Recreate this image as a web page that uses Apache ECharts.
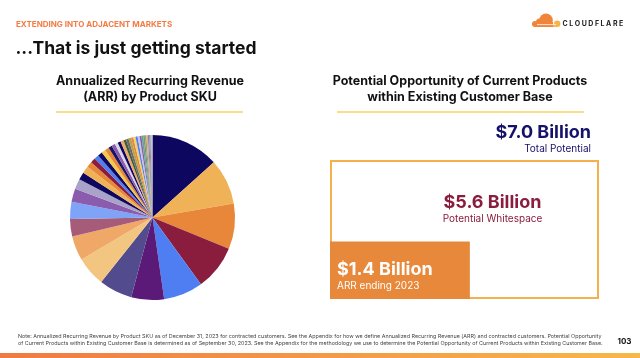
<!DOCTYPE html>
<html><head><meta charset="utf-8">
<script src="https://cdn.jsdelivr.net/npm/echarts@6/dist/echarts.min.js"></script>
<style>html,body{margin:0;padding:0;background:#fff}#c{width:640px;height:358px}</style>
</head><body><div id="c"></div>
<script>
// ARR share by product SKU (% of total ARR), clockwise from 12 o'clock
const skuShares = [13.3, 8.9, 8.9, 8.8, 7.7, 6.4, 6.5, 5.8, 4.8, 3.4, 3.3, 2.6, 2.0, 1.5, 1.4,
  1.1, 1.0, 0.9, 0.9, 0.8, 0.8, 0.7, 0.7, 0.6, 0.6, 0.6, 0.5, 0.5, 0.5, 0.45, 0.45, 0.4, 0.4, 0.35, 0.35, 0.3, 0.3, 0.3, 0.25, 0.25, 0.2, 0.2];
const skuColors = ['#0e0760','#f0b257','#e8873a','#8a1d3d','#4f7ef2','#5b1a78','#524c8f','#f2c681','#efa868','#a65b79','#7fa3f6','#8b5cae','#a9a3c9','#0e0760','#f0b257',
  '#e8873a','#8a1d3d','#4f7ef2','#0e0760','#f2c94c','#e8873a','#1a1464','#8b5cae','#d9d6e6','#0e0760','#efa868','#3d5a3a','#6a6a6a','#b8a24a','#e8873a','#f2d36b','#4f7ef2','#c9c4dd','#8b5cae','#5aa5a0','#7a9a5a','#9a9a9a','#e0b060','#6f86c8','#b07ab0','#88b0a8','#c0c0c0'];
// Potential opportunity ($ billions)
const oppLabels = ['Total Potential', 'Potential Whitespace', 'ARR ending 2023'];
const oppValues = [7.0, 5.6, 1.4];

const chart = echarts.init(document.getElementById('c'), null, {renderer: 'canvas'});
const F = 'Inter, "Noto Sans", sans-serif';
const footnote1 = 'Note: Annualized Recurring Revenue by Product SKU as of December 31, 2023 for contracted customers. See the Appendix for how we define Annualized Recurring Revenue (ARR) and contracted customers. Potential Opportunity';
const footnote2 = 'of Current Products within Existing Customer Base is determined as of September 30, 2023. See the Appendix for the methodology we use to determine the Potential Opportunity of Current Products within Existing Customer Base.';

function txt(x, y, text, font, fill, align) {
  return {type: 'text', x: x, y: y, z: 100, silent: true,
    style: {text: text, font: font, fill: fill, align: align || 'left', verticalAlign: 'middle'}};
}

// logo wordmark letters with spacing
const logoFont = 'bold 7px ' + F;
const mctx = document.createElement('canvas').getContext('2d');
mctx.font = logoFont;
const logoEls = [];
let lx = 562.5;
'CLOUDFLARE'.split('').forEach(ch => {
  logoEls.push(txt(lx, 24.3, ch, logoFont, '#222'));
  lx += mctx.measureText(ch).width + 1.55;
});

const arrWidthFrac = 0.52;
chart.setOption({
  animation: false,
  grid: {left: 331, top: 161, width: 267, height: 137},
  xAxis: {type: 'value', min: 0, max: 1, show: false},
  yAxis: {type: 'value', min: 0, max: 1, show: false},
  series: [
    {
      type: 'pie', center: [152.5, 217.5], radius: [0, 82.5], startAngle: 90, clockwise: true,
      label: {show: false}, labelLine: {show: false}, silent: true,
      itemStyle: {borderWidth: 0},
      data: skuShares.map((v, i) => ({value: v, name: 'SKU ' + (i + 1), itemStyle: {color: skuColors[i]}}))
    },
    {
      type: 'custom', silent: true, z: 1,
      data: [[oppValues[0]], [oppValues[2]]],
      renderItem: function (params, api) {
        const v = api.value(0);
        const share = v / oppValues[0];
        if (params.dataIndex === 0) {
          const p0 = api.coord([0, 1]), p1 = api.coord([1, 0]);
          return {type: 'rect', shape: {x: p0[0], y: p0[1], width: p1[0] - p0[0], height: p1[1] - p0[1]},
            style: {fill: 'rgba(0,0,0,0)', stroke: '#f3b04b', lineWidth: 2}};
        }
        const w = arrWidthFrac, h = share / w * 1.07;
        const p0 = api.coord([0, h]), p1 = api.coord([w, 0]);
        return {type: 'rect', shape: {x: p0[0] - 1, y: p0[1], width: p1[0] - p0[0] + 1, height: p1[1] - p0[1] + 1},
          style: {fill: '#e8883a'}};
      }
    }
  ],
  graphic: [
    txt(16, 24.2, 'EXTENDING INTO ADJACENT MARKETS', 'bold 8px ' + F, '#f47b42'),
    txt(15.5, 49, '...That is just getting started', 'bold 17.5px ' + F, '#111'),
    // logo
    {type: 'circle', shape: {cx: 546, cy: 20.2, r: 6.8}, style: {fill: '#f0853a'}},
    {type: 'circle', shape: {cx: 535, cy: 24, r: 3}, style: {fill: '#f0853a'}},
    {type: 'circle', shape: {cx: 539.5, cy: 22, r: 3.5}, style: {fill: '#f0853a'}},
    {type: 'rect', shape: {x: 535, y: 22, width: 18, height: 5}, style: {fill: '#f0853a'}},
    {type: 'circle', shape: {cx: 557.2, cy: 23.8, r: 3.2}, style: {fill: '#f8b44a'}},
    {type: 'rect', shape: {x: 553, y: 24, width: 4.5, height: 3}, style: {fill: '#f8b44a'}},
    {type: 'line', shape: {x1: 537, y1: 24.6, x2: 556, y2: 24.6}, style: {stroke: '#fff', lineWidth: 0.8}},
    {type: 'rect', shape: {x: 528, y: 27, width: 36, height: 3}, style: {fill: '#fff'}},
    ...logoEls,
    // subtitles
    txt(150, 81.7, 'Annualized Recurring Revenue', 'bold 12.5px ' + F, '#111', 'center'),
    txt(150, 97, '(ARR) by Product SKU', 'bold 12.5px ' + F, '#111', 'center'),
    {type: 'line', shape: {x1: 56, y1: 112, x2: 243, y2: 112}, style: {stroke: '#f8d262', lineWidth: 1.5}},
    txt(460, 81.7, 'Potential Opportunity of Current Products', 'bold 12.5px ' + F, '#111', 'center'),
    txt(460, 97, 'within Existing Customer Base', 'bold 12.5px ' + F, '#111', 'center'),
    {type: 'line', shape: {x1: 337, y1: 112, x2: 584, y2: 112}, style: {stroke: '#f8d262', lineWidth: 1.5}},
    // right values
    txt(591, 133, '$' + oppValues[0].toFixed(1) + ' Billion', 'bold 18px ' + F, '#15116a', 'right'),
    txt(591, 148.6, oppLabels[0], '10px ' + F, '#15116a', 'right'),
    txt(492.5, 203, '$' + oppValues[1].toFixed(1) + ' Billion', 'bold 18px ' + F, '#8a1d3d', 'center'),
    txt(492.5, 218.6, oppLabels[1], '10px ' + F, '#8a1d3d', 'center'),
    txt(337, 269.7, '$' + oppValues[2].toFixed(1) + ' Billion', 'bold 18px ' + F, '#fff'),
    txt(337, 285.6, oppLabels[2], '10px ' + F, '#fff'),
    // footnote
    txt(18, 336.6, footnote1, '5.4px ' + F, '#444'),
    txt(18, 343.1, footnote2, '5.4px ' + F, '#444'),
    txt(617.5, 341.7, '103', 'bold 8px ' + F, '#111'),
    {type: 'rect', shape: {x: 0, y: 353, width: 640, height: 5},
      style: {fill: new echarts.graphic.LinearGradient(0, 0, 1, 0, [{offset: 0, color: '#f07a45'}, {offset: 1, color: '#f6b84a'}])}}
  ]
});
</script></body></html>
